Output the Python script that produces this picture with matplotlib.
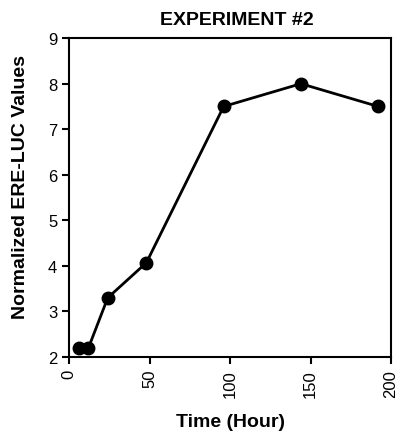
import matplotlib.pyplot as plt

# Time course of normalized ERE-LUC activity
hours = [6, 12, 24, 48, 96, 144, 192]
ere_luc = [2.2, 2.2, 3.3, 4.07, 7.5, 8.0, 7.5]

x_ticks = [0, 50, 100, 150, 200]
y_ticks = [2, 3, 4, 5, 6, 7, 8, 9]

plt.rcParams['font.family'] = ['Liberation Sans', 'DejaVu Sans']

fig = plt.figure(figsize=(3.95, 4.35), dpi=100)
ax = fig.add_axes([0.175, 0.177, 0.815, 0.733])

ax.plot(hours, ere_luc, color='black', linewidth=2, marker='o',
        markersize=9, markerfacecolor='black', markeredgecolor='black')

ax.set_xlim(0, 200)
ax.set_ylim(2, 9)
ax.set_xticks(x_ticks)
ax.set_yticks(y_ticks)
ax.tick_params(axis='x', labelrotation=90, labelsize=12, direction='out',
               length=5, width=1.5, top=False)
ax.tick_params(axis='y', labelsize=12, direction='out', length=5,
               width=1.5, right=False)
for side in ax.spines.values():
    side.set_linewidth(1.5)

ax.set_title("EXPERIMENT #2", fontsize=14, fontweight='bold', pad=10,
             x=0.52)
ax.set_xlabel("Time (Hour)", fontsize=14, fontweight='bold', labelpad=12)
ax.set_ylabel("Normalized ERE-LUC Values", fontsize=14, fontweight='bold')
ax.yaxis.set_label_coords(-0.125, 0.535)

fig.savefig("out.png", dpi=100)
